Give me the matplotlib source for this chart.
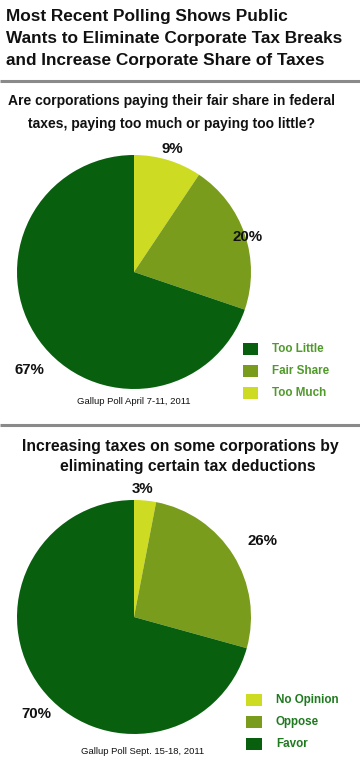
import matplotlib
matplotlib.use("Agg")
import matplotlib.pyplot as plt
from matplotlib.patches import Rectangle

W, H = 360, 768
FONT = "Liberation Sans"

title_lines = ["Most Recent Polling Shows Public",
               "Wants to Eliminate Corporate Tax Breaks",
               "and Increase Corporate Share of Taxes"]

q1_lines = ["Are corporations paying their fair share in federal",
            "taxes, paying too much or paying too little?"]
q1_labels = ["Too Much", "Fair Share", "Too Little"]
q1_values = [9, 20, 67]
q1_source = "Gallup Poll April 7-11, 2011"

q2_lines = ["Increasing taxes on some corporations by",
            "eliminating certain tax deductions"]
q2_labels = ["No Opinion", "Oppose", "Favor"]
q2_values = [3, 26, 70]
q2_source = "Gallup Poll Sept. 15-18, 2011"

C_LIGHT = "#cddc22"
C_MID = "#7a9c1c"
C_DARK = "#08600f"
colors = [C_LIGHT, C_MID, C_DARK]

fig = plt.figure(figsize=(W / 100, H / 100), dpi=100)
ax = fig.add_axes([0, 0, 1, 1])


def Y(y):
    return H - y


# Title
for i, line in enumerate(title_lines):
    ax.text(6, Y(17 + 22 * i), line, fontsize=12.4, fontweight="bold",
            family=FONT, ha="left", va="center", color="#111111")

# separators
ax.plot([0, W], [Y(81), Y(81)], color="#8a8a8a", lw=2.2, solid_capstyle="butt")
ax.plot([0, W], [Y(425), Y(425)], color="#8a8a8a", lw=2.2, solid_capstyle="butt")


def draw_pie(cx, cy, r, values, pct_pos):
    ax.pie(values, colors=colors, startangle=90, counterclock=False,
           center=(cx, Y(cy)), radius=r,
           wedgeprops=dict(linewidth=0), frame=True)
    for v, (px, py) in zip(values, pct_pos):
        ax.text(px, Y(py), f"{v}%", fontsize=10.8, fontweight="bold", family=FONT,
                ha="center", va="center", color="#111111")


# Question 1
ax.text(172, Y(101), q1_lines[0], fontsize=10.0, fontweight="bold", family=FONT,
        ha="center", va="center", color="#111111")
ax.text(171, Y(124), q1_lines[1], fontsize=10.0, fontweight="bold", family=FONT,
        ha="center", va="center", color="#111111")
draw_pie(134, 272, 117, q1_values, [(172, 149), (248, 237), (29, 370)])
ax.text(134, Y(402), q1_source, fontsize=6.8, family=FONT, ha="center",
        va="center", color="#111111")

leg1_y = [393, 371, 349]
for lab, col, yy in zip(q1_labels, colors, leg1_y):
    ax.add_patch(Rectangle((243, Y(yy + 6)), 15, 12, color=col, lw=0))
    ax.text(272, Y(yy), lab, fontsize=8.4, fontweight="bold", family=FONT,
            ha="left", va="center", color="#4f9a2a")

# Question 2
ax.text(180, Y(446), q2_lines[0], fontsize=11.3, fontweight="bold", family=FONT,
        ha="center", va="center", color="#111111")
ax.text(188, Y(467), q2_lines[1], fontsize=11.3, fontweight="bold", family=FONT,
        ha="center", va="center", color="#111111")
draw_pie(134, 617, 117, q2_values, [(143, 489), (262, 541), (36, 714)])
ax.text(143, Y(752), q2_source, fontsize=6.8, family=FONT, ha="center",
        va="center", color="#111111")

leg2_y = [700, 722, 744]
for lab, col, yy in zip(q2_labels, colors, leg2_y):
    ax.add_patch(Rectangle((246, Y(yy + 6)), 16, 12, color=col, lw=0))
    ax.text(276, Y(yy), lab, fontsize=8.4, fontweight="bold", family=FONT,
            ha="left", va="center", color="#1f7a1f")

ax.set_xlim(0, W)
ax.set_ylim(0, H)
ax.set_aspect("equal")
ax.axis("off")

fig.savefig("out.png", dpi=100)
